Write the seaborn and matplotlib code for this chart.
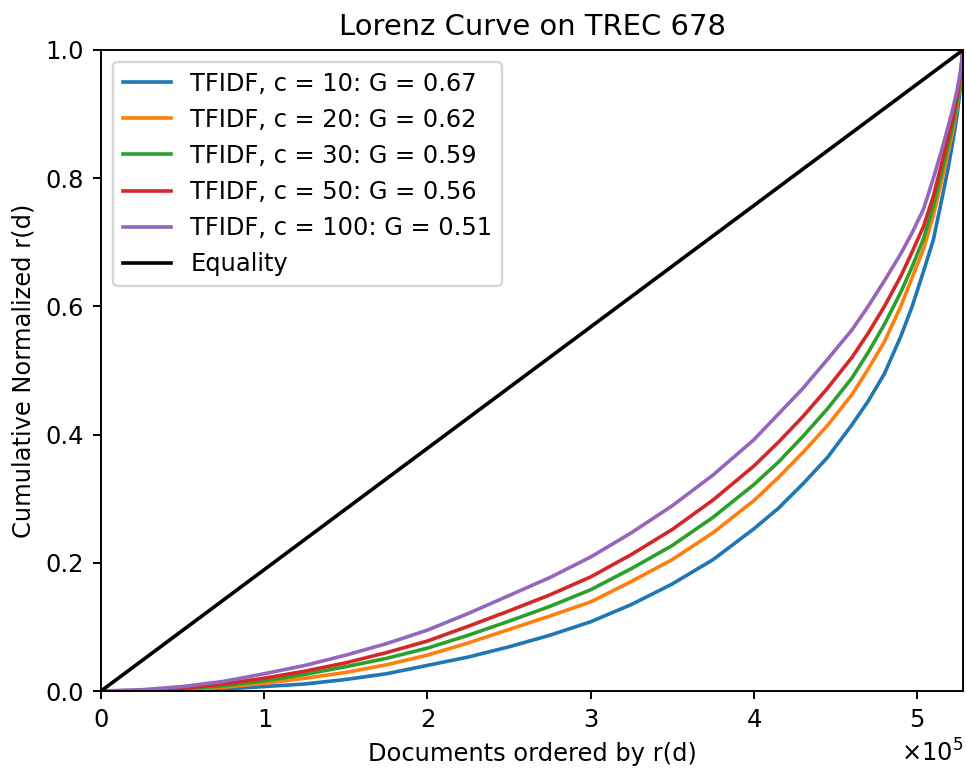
import matplotlib
matplotlib.use("Agg")
import matplotlib.pyplot as plt
import seaborn as sns

N_DOCS = 528155

# x positions (in units of 1e5 documents) at which values were read
x_read = [0, 0.25, 0.5, 0.75, 1.0, 1.25, 1.5, 1.75, 2.0, 2.25, 2.5, 2.75,
          3.0, 3.25, 3.5, 3.75, 4.0, 4.15, 4.3, 4.45, 4.6, 4.7, 4.8, 4.9,
          4.97, 5.04, 5.1, 5.15, 5.19, 5.22, 5.245, 5.265, 5.28155]

labels = ["TFIDF, c = 10: G = 0.67",
          "TFIDF, c = 20: G = 0.62",
          "TFIDF, c = 30: G = 0.59",
          "TFIDF, c = 50: G = 0.56",
          "TFIDF, c = 100: G = 0.51"]

c10 = [0, 0.0002, 0.001, 0.003, 0.007, 0.011, 0.018, 0.027, 0.040, 0.053, 0.069, 0.087,
       0.108, 0.135, 0.167, 0.205, 0.253, 0.285, 0.323, 0.364, 0.415, 0.452, 0.495, 0.553,
       0.600, 0.655, 0.704, 0.765, 0.815, 0.858, 0.898, 0.940, 1.0]
c20 = [0, 0.0004, 0.002, 0.006, 0.012, 0.020, 0.029, 0.041, 0.056, 0.075, 0.096, 0.117,
       0.139, 0.171, 0.205, 0.247, 0.297, 0.333, 0.372, 0.414, 0.462, 0.502, 0.545, 0.600,
       0.645, 0.690, 0.742, 0.795, 0.840, 0.875, 0.912, 0.950, 1.0]
c30 = [0, 0.0006, 0.003, 0.008, 0.016, 0.026, 0.038, 0.051, 0.067, 0.087, 0.109, 0.132,
       0.158, 0.191, 0.227, 0.271, 0.322, 0.357, 0.397, 0.440, 0.488, 0.528, 0.572, 0.622,
       0.662, 0.706, 0.757, 0.808, 0.850, 0.884, 0.918, 0.954, 1.0]
c50 = [0, 0.001, 0.004, 0.011, 0.020, 0.031, 0.044, 0.060, 0.078, 0.101, 0.125, 0.150,
       0.178, 0.213, 0.252, 0.298, 0.351, 0.388, 0.428, 0.472, 0.520, 0.558, 0.600, 0.647,
       0.685, 0.725, 0.772, 0.822, 0.863, 0.894, 0.928, 0.960, 1.0]
c100 = [0, 0.002, 0.007, 0.015, 0.027, 0.040, 0.056, 0.074, 0.095, 0.121, 0.149, 0.177,
        0.209, 0.247, 0.289, 0.337, 0.392, 0.432, 0.472, 0.517, 0.563, 0.600, 0.640, 0.682,
        0.715, 0.752, 0.800, 0.843, 0.880, 0.909, 0.937, 0.965, 1.0]

series = [c10, c20, c30, c50, c100]
colors = ["#1f77b4", "#ff7f0e", "#2ca02c", "#d62728", "#9467bd"]

eq_x = [0, N_DOCS]
eq_y = [0.0, 1.0]

DPI = 174
fig = plt.figure(figsize=(966 / DPI, 769 / DPI), dpi=DPI)
ax = fig.add_axes([0.1046, 0.1014, 0.8923, 0.8336])

xs_docs = [v * 1e5 for v in x_read]
for ys, col, lab in zip(series, colors, labels):
    sns.lineplot(x=xs_docs, y=ys, ax=ax, color=col, label=lab, linewidth=1.5)
sns.lineplot(x=eq_x, y=eq_y, ax=ax, color="black", label="Equality", linewidth=1.5)

ax.set_xlim(0, N_DOCS)
ax.set_ylim(0, 1)
ax.set_yticks([0.0, 0.2, 0.4, 0.6, 0.8, 1.0])
ax.ticklabel_format(style="sci", axis="x", scilimits=(0, 0), useMathText=True)
ax.set_title("Lorenz Curve on TREC 678")
ax.set_xlabel("Documents ordered by r(d)")
ax.set_ylabel("Cumulative Normalized r(d)")
ax.legend(loc="upper left")

fig.savefig("out.png", dpi=DPI)
